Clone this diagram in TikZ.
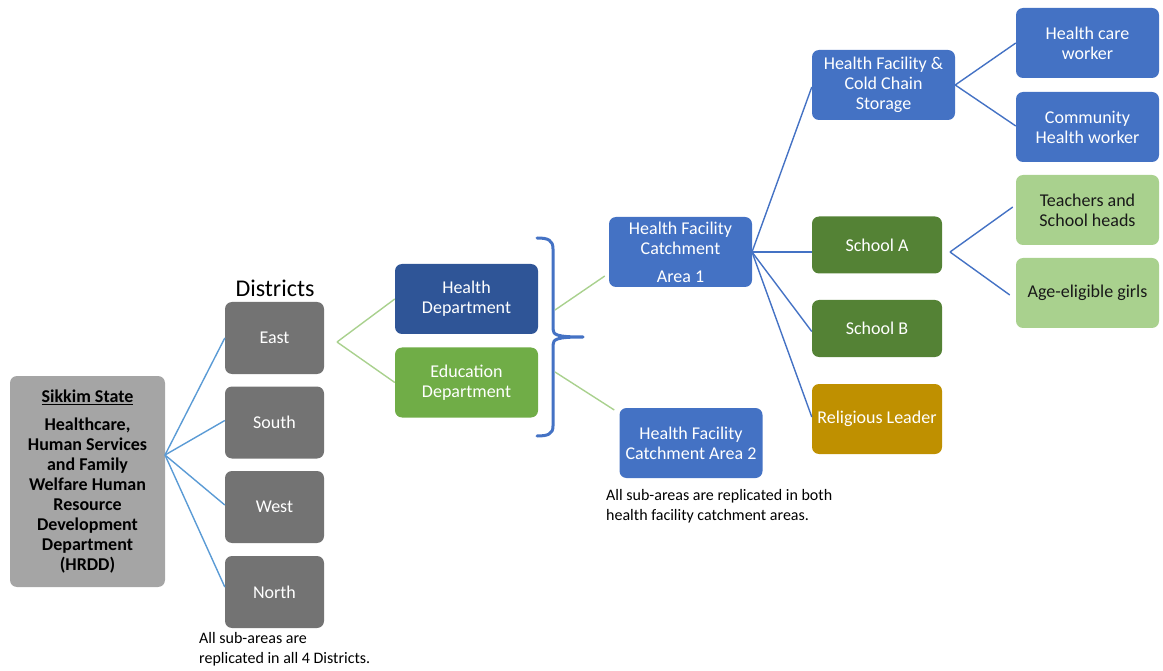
\documentclass[tikz,border=0pt]{standalone}
\usepackage{fontspec}
\setmainfont{Carlito}
\definecolor{grayA}{HTML}{A5A5A5}
\definecolor{grayB}{HTML}{737373}
\definecolor{navy}{HTML}{2F5597}
\definecolor{blueB}{HTML}{4472C4}
\definecolor{greenE}{HTML}{70AD47}
\definecolor{greenD}{HTML}{548235}
\definecolor{gold}{HTML}{BF9000}
\definecolor{greenL}{HTML}{A9D18E}
\definecolor{lineL}{HTML}{5B9BD5}
\definecolor{lineG}{HTML}{A9D18E}
\begin{document}
\begin{tikzpicture}[x=1pt,y=-1pt,
  box/.style={rectangle, rounded corners=7pt, inner sep=0pt, align=center,
    font=\fontsize{18}{20}\selectfont, text=white},
  dist/.style={box, fill=grayB, minimum width=99, minimum height=72},
  dept/.style={box, minimum width=143, minimum height=70},
  lvl/.style={box, minimum width=143, minimum height=70, fill=blueB},
  sch/.style={box, minimum width=130, fill=greenD},
  note/.style={align=left, anchor=north west, inner sep=0pt, font=\fontsize{16}{20}\selectfont},
  lb/.style={draw=lineL, line width=1.4pt},
  lg/.style={draw=lineG, line width=1.4pt},
  ld/.style={draw=blueB, line width=1.4pt},
  bracestyle/.style={draw=blueB, line width=3pt, line join=round, line cap=round}
]
\useasboundingbox (0,0) rectangle (1163,671);

% Root
\node[box, fill=grayA, text=black, minimum width=155, minimum height=211,
  font=\bfseries\fontsize{18}{20}\selectfont] (sik) at (87.5,481.5)
  {\underline{Sikkim State}\\[8pt]Healthcare,\\Human Services\\and Family\\Welfare Human\\Resource\\Development\\Department\\(HRDD)};

% Districts
\node[font=\fontsize{24}{28}\selectfont, inner sep=0pt] (dlab) at (275,288) {Districts};
\node[dist] (east)  at (274.5,338) {East};
\node[dist] (south) at (274.5,422.5) {South};
\node[dist] (west)  at (274.5,507) {West};
\node[dist] (north) at (274.5,592) {North};
\node[note] (n1) at (199,632) {All sub-areas are\\replicated in all 4 Districts.};

% Departments
\node[dept, fill=navy] (hd) at (466.5,299) {Health\\Department};
\node[dept, fill=greenE] (ed) at (466.5,382.5) {Education\\Department};

% Catchment areas
\node[lvl] (hf1) at (680.5,252) {Health Facility\\Catchment\\[8pt]Area 1};
\node[lvl] (hf2) at (691,443) {Health Facility\\Catchment Area 2};
\node[note] (n2) at (606,489) {All sub-areas are replicated in both\\health facility catchment areas.};

% Sub-areas
\node[lvl] (hfc) at (883.5,85) {Health Facility \&\\Cold Chain\\Storage};
\node[sch, minimum height=57] (sa) at (877,245) {School A};
\node[sch, minimum height=57] (sb) at (877,328.5) {School B};
\node[sch, fill=gold, minimum height=70] (rl) at (877,419) {Religious Leader};

% Leaves
\node[lvl] (hcw) at (1087.5,43) {Health care\\worker};
\node[lvl] (chw) at (1087.5,127) {Community\\Health worker};
\node[lvl, fill=greenL, text=black!90] (tsh) at (1087.5,210) {Teachers and\\School heads};
\node[lvl, fill=greenL, text=black!90] (aeg) at (1087.5,293) {Age-eligible girls};

% Fan origins
\coordinate (sikO) at (165,455);
\coordinate (eastO) at (337,342);
\coordinate (brU) at (555,310);
\coordinate (brL) at (555,372);
\coordinate (hf1O) at (752,252);
\coordinate (saO) at (950,252);

% Connectors root -> districts
\draw[lb] (sikO) -- (east.west);
\draw[lb] (sikO) -- ([yshift=2pt]south.west);
\draw[lb] (sikO) -- ([yshift=2pt]west.west);
\draw[lb] (sikO) -- ([yshift=5pt]north.west);

% East -> departments
\draw[lg] (eastO) -- (hd.west);
\draw[lg] (eastO) -- (ed.west);

% Brace
\draw[bracestyle] (537,238) .. controls (548,238) and (553,240) .. (553,249)
  -- (553,329) .. controls (553,335) and (557,337) .. (583,337)
  .. controls (557,337) and (553,339) .. (553,345)
  -- (553,426) .. controls (553,434) and (548,436) .. (537,436);

% Brace -> catchment areas
\draw[lg] (brU) -- ([xshift=-4pt,yshift=-24pt]hf1.west);
\draw[lg] (brL) -- ([xshift=-5pt,yshift=33pt]hf2.west);

% Catchment 1 -> sub-areas
\draw[ld] (hf1O) -- ([yshift=-2pt]hfc.west);
\draw[ld] (hf1O) -- (sa.west |- hf1O);
\draw[ld] (hf1O) -- ([yshift=-3pt]sb.west);
\draw[ld] (hf1O) -- ([yshift=2pt]rl.west);

% Sub-areas -> leaves
\draw[ld] (hfc.east) -- (hcw.west);
\draw[ld] (hfc.east) -- ([yshift=1pt]chw.west);
\draw[ld] (saO) -- ([xshift=-3pt,yshift=3pt]tsh.west);
\draw[ld] (saO) -- ([xshift=-6pt,yshift=-2pt]aeg.west);
\end{tikzpicture}
\end{document}
